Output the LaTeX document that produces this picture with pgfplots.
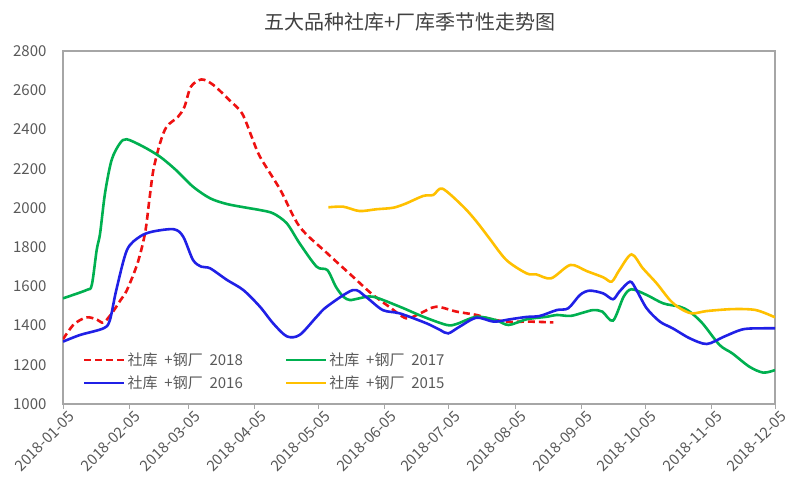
\documentclass[border=0pt]{standalone}
\usepackage{pgfplots}
\pgfplotsset{compat=1.18}
\usepackage{fontspec}
\setmainfont{Noto Sans CJK SC}
\definecolor{cred}{HTML}{EE1111}
\definecolor{cgreen}{HTML}{00B050}
\definecolor{cblue}{HTML}{2020E6}
\definecolor{cyellow}{HTML}{FFC000}
\definecolor{framegray}{HTML}{A6A6A6}
\definecolor{tickgray}{HTML}{595959}
\definecolor{titlegray}{HTML}{404040}
\newcommand{\lsp}{\hspace{0.45em}}
\begin{document}
\begin{tikzpicture}
\begin{axis}[
  name=ax,
  scale only axis,
  width=712pt, height=353pt,
  xmin=0, xmax=334, ymin=1000, ymax=2800,
  ytick={1000,1200,...,2800},
  xtick={0,31,59,90,120,151,181,212,243,273,304,334},
  xticklabels={2018-01-05,2018-02-05,2018-03-05,2018-04-05,2018-05-05,2018-06-05,2018-07-05,2018-08-05,2018-09-05,2018-10-05,2018-11-05,2018-12-05},
  /pgf/number format/assume math mode=true,
  /pgf/number format/1000 sep={},
  ticklabel style={font=\fontsize{15}{17}\selectfont, text=tickgray},
  xticklabel style={rotate=45, anchor=north east, inner sep=1pt, xshift=4pt, yshift=-3pt},
  yticklabel style={anchor=east, xshift=-8pt},
  axis line style={color=framegray, line width=1.2pt},
  tick align=outside,
  xtick pos=bottom,
  ytick pos=left,
  major tick length=5pt,
  xtick style={color=framegray, line width=0.8pt},
  ytick style={draw=none},
  title={五大品种社库+厂库季节性走势图},
  title style={font=\fontsize{20}{24}\selectfont, text=titlegray, anchor=center, at={(0.5,1)}, yshift=23pt, xshift=-9pt},
  legend columns=2,
  legend cell align=left,
  legend style={draw=none, fill=none, at={(0.028,0.033)}, anchor=south west, inner sep=0pt,
    font=\fontsize{15}{17}\selectfont, text=tickgray,
    /tikz/every even column/.append style={column sep=40pt},
    row sep=5pt},
  legend image code/.code={\draw[#1] (0pt,0pt) -- (40pt,0pt);},
  every axis plot/.append style={line width=2.6pt, smooth, tension=0.5},
]
\addplot[color=cred, dash pattern=on 7pt off 4pt] coordinates {
(0,1330) (5,1405) (11,1442) (16,1430) (19,1415) (23,1464) (27,1530) (30,1581)
(35,1719) (38.5,1872) (40.5,2040) (42.4,2193) (45.5,2329) (48.6,2414) (54,2465)
(57,2516) (60,2618) (65,2655) (70.5,2627) (78,2550) (84,2482) (88.5,2363)
(92.4,2261) (102,2091) (111,1904) (124,1768) (136,1649) (145,1560) (153,1496)
(161,1437) (167.5,1462) (175,1496) (184.6,1471) (194,1454) (199,1437) (208,1420)
(219,1420) (230,1416)
};
\addlegendentry{社库\lsp+钢厂\lsp2018}
\addplot[color=cgreen] coordinates {
(0,1539) (11,1581) (13.5,1607) (15.8,1785) (17.4,1870) (19.7,2074) (22.8,2244)
(26.7,2329) (29.9,2350) (37.7,2312) (45.5,2261) (53,2193) (61,2108) (69,2049)
(76.8,2020) (86,2001) (92.4,1989) (98.6,1972) (105,1921) (111,1819) (119,1700)
(124,1683) (128,1598) (131.5,1547) (134.6,1530) (139,1539) (145.5,1547) (158,1496)
(169,1445) (180,1403) (184.6,1408) (194,1445) (203,1428) (209,1403) (217.5,1432)
(227,1445) (231.6,1454) (238,1449) (244,1466) (248.7,1479) (253,1471) (258,1425)
(263,1547) (266.7,1585) (273.8,1556) (281.6,1513) (289.4,1496) (294,1471) (300,1411)
(308,1301) (314,1258) (322,1190) (328.5,1160) (334,1173)
};
\addlegendentry{社库\lsp+钢厂\lsp2017}
\addplot[color=cblue] coordinates {
(0,1318) (8,1352) (19,1386) (22,1428) (25,1581) (30,1785) (36,1853) (42,1879)
(52,1891) (56.4,1853) (61,1734) (65,1700) (69,1692) (77,1632) (84.6,1581)
(92.4,1496) (98.6,1411) (105,1345) (111,1352) (119,1445) (123.7,1496) (136,1581)
(142,1547) (150,1479) (158,1462) (170.6,1411) (177,1377) (180.7,1360) (186,1394)
(194,1440) (202,1420) (209.7,1432) (217.5,1444) (223.7,1449) (231.6,1479) (237,1488)
(242.5,1556) (247,1578) (253.4,1564) (258,1534) (261,1573) (266,1624) (269,1581)
(273.8,1488) (280,1420) (286,1386) (294,1335) (302,1306) (310,1343) (319,1381)
(328.5,1386) (334,1386)
};
\addlegendentry{社库\lsp+钢厂\lsp2016}
\addplot[color=cyellow] coordinates {
(124.5,2003) (131.5,2006) (139,1984) (147,1993) (155,2001) (161,2023) (169,2061)
(173.7,2066) (178,2098) (187.8,2006) (194,1930) (200,1845) (208,1734) (217.5,1666)
(222,1661) (229,1641) (238,1709) (245.6,1678) (253.4,1646) (257.4,1624) (261,1683)
(266.7,1763) (272,1692) (278.5,1615) (284.7,1530) (289.4,1488) (295,1462) (302,1474)
(314.4,1484) (325,1479) (334,1442)
};
\addlegendentry{社库\lsp+钢厂\lsp2015}
\end{axis}
\pgfresetboundingbox
\path ([xshift=-63pt,yshift=-81pt]ax.south west) rectangle ([xshift=14pt,yshift=51pt]ax.north east);
\end{tikzpicture}
\end{document}
